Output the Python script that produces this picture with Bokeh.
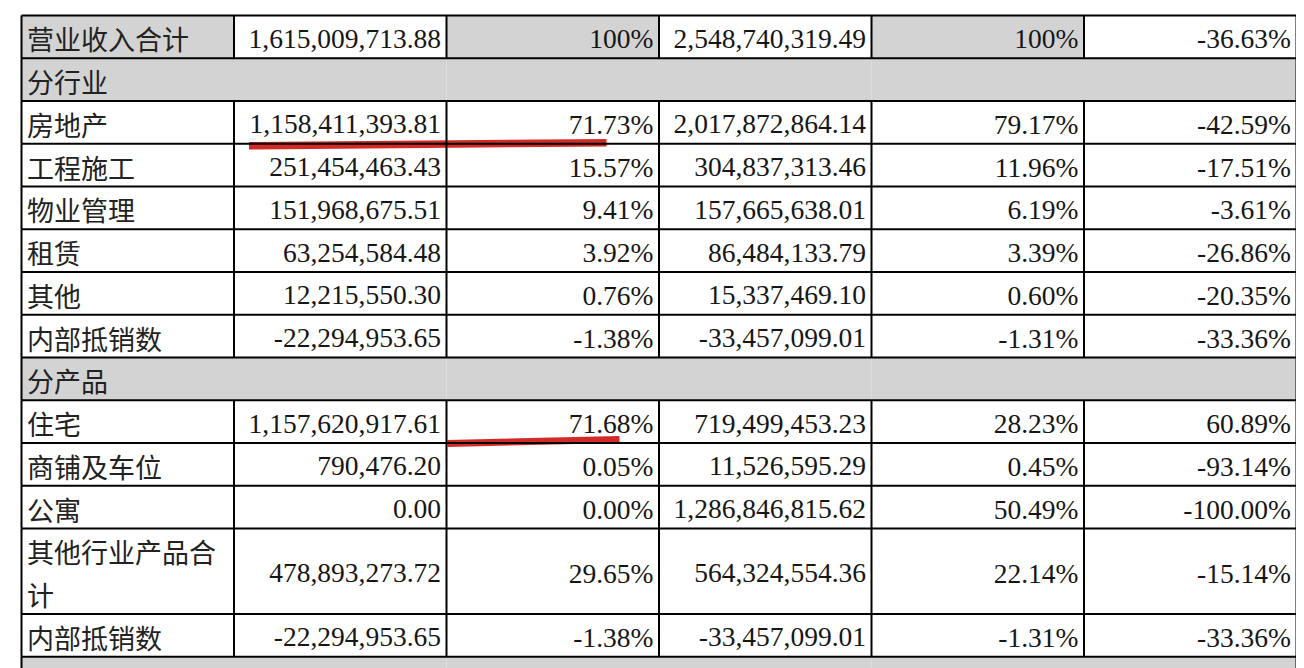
from bokeh.plotting import figure
from bokeh.models import Range1d
from bokeh.core.properties import value
from bokeh.embed import file_html
from bokeh.resources import INLINE

# ---------------- data ----------------
row_labels = ["营业收入合计", "分行业", "房地产", "工程施工", "物业管理", "租赁", "其他",
              "内部抵销数", "分产品", "住宅", "商铺及车位", "公寓", "其他行业产品合计",
              "内部抵销数", "分地区"]
section_rows = [1, 8, 14]          # merged grey heading rows
total_row = 0
amount_2023 = [1615009713.88, None, 1158411393.81, 251454463.43, 151968675.51,
               63254584.48, 12215550.30, -22294953.65, None, 1157620917.61,
               790476.20, 0.00, 478893273.72, -22294953.65, None]
share_2023 = [100, None, 71.73, 15.57, 9.41, 3.92, 0.76, -1.38, None, 71.68,
              0.05, 0.00, 29.65, -1.38, None]
amount_2022 = [2548740319.49, None, 2017872864.14, 304837313.46, 157665638.01,
               86484133.79, 15337469.10, -33457099.01, None, 719499453.23,
               11526595.29, 1286846815.62, 564324554.36, -33457099.01, None]
share_2022 = [100, None, 79.17, 11.96, 6.19, 3.39, 0.60, -1.31, None, 28.23,
              0.45, 50.49, 22.14, -1.31, None]
yoy_change = [-36.63, None, -42.59, -17.51, -3.61, -26.86, -20.35, -33.36, None,
              60.89, -93.14, -100.00, -15.14, -33.36, None]

# ---------------- layout ----------------
W, H = 1296, 668
X0, Y0 = 21.0, 15.0         # table origin inside the plot
COL_W = 212.5
LINE_H = 42.75
N_COLS = 6
FS = 27.5
PAD = 5.5
MAX_CHARS = 7
GREY = "#d3d3d3"
INK = "#161616"
CJK = "Noto Sans CJK SC"
SERIF = "Liberation Serif"

col_edges = [X0 + i * COL_W for i in range(N_COLS + 1)]


def wrap(label):
    return [label[i:i + MAX_CHARS] for i in range(0, len(label), MAX_CHARS)]


row_lines = [len(wrap(l)) for l in row_labels]
row_edges = [Y0]
for n in row_lines:
    row_edges.append(row_edges[-1] + n * LINE_H)


def fmt_amt(v):
    return "" if v is None else f"{v:,.2f}"


def fmt_pct(v, short_100=False):
    if v is None:
        return ""
    if short_100 and v == 100:
        return "100%"
    return f"{v:.2f}%"


p = figure(width=W, height=H, output_backend="svg", toolbar_location=None,
           x_range=Range1d(0, W), y_range=Range1d(H, 0), min_border=0,
           outline_line_color=None, background_fill_color="white",
           border_fill_color="white")
p.axis.visible = False
p.grid.visible = False

# backgrounds
bl, br, bt, bb, bc = [], [], [], [], []
for r in range(len(row_labels)):
    for c in range(N_COLS):
        grey = (r in section_rows) or (r == total_row and c % 2 == 0)
        bl.append(col_edges[c]); br.append(col_edges[c + 1])
        bt.append(row_edges[r]); bb.append(min(row_edges[r + 1], H + 20))
        bc.append(GREY if grey else "white")
p.quad(left=bl, right=br, top=bt, bottom=bb, fill_color=bc, line_color=None)

# red highlight strokes (annotations on the screenshot)
hl_rows = [2, 9]
hl_from = [(col_edges[1] + 15, 2.0), (col_edges[2] + 1, 0.5)]
hl_to = [(col_edges[2] + 160, -1.0), (col_edges[2] + 173, -3.5)]
hl_width = [7.5, 7]
for r, (fx, fy), (tx, ty), w in zip(hl_rows, hl_from, hl_to, hl_width):
    y = row_edges[r + 1]
    p.line([fx, tx], [y + fy, y + ty], line_color="#d22a27", line_width=w,
           line_cap="butt")

# grid lines
x0s, y0s, x1s, y1s = [], [], [], []
for y in row_edges:
    x0s.append(col_edges[0]); x1s.append(col_edges[-1]); y0s.append(y); y1s.append(y)
for r in range(len(row_labels)):
    edges = [0, N_COLS] if r in section_rows else range(N_COLS + 1)
    for c in edges:
        x0s.append(col_edges[c]); x1s.append(col_edges[c])
        y0s.append(row_edges[r]); y1s.append(row_edges[r + 1])
p.segment(x0=x0s, y0=y0s, x1=x1s, y1=y1s, line_color="black", line_width=2)

# labels
lx, ly, lt = [], [], []
for r, lab in enumerate(row_labels):
    for i, part in enumerate(wrap(lab)):
        lx.append(col_edges[0] + PAD)
        ly.append(row_edges[r] + (i + 0.5) * LINE_H + 2)
        lt.append(part)
p.text(x=lx, y=ly, text=lt, text_font=value(CJK), text_font_size=value(f"{FS-0.5}px"),
       text_align="left", text_baseline="middle", text_color="#222222")

# numbers
nx, ny, nt = [], [], []
for r in range(len(row_labels)):
    if r in section_rows:
        continue
    cells = [fmt_amt(amount_2023[r]), fmt_pct(share_2023[r], True),
             fmt_amt(amount_2022[r]), fmt_pct(share_2022[r], True),
             fmt_pct(yoy_change[r])]
    yc = (row_edges[r] + row_edges[r + 1]) / 2 + 2
    for c, s in enumerate(cells, start=1):
        nx.append(col_edges[c + 1] - PAD)
        ny.append(yc)
        nt.append(s)
p.text(x=nx, y=ny, text=nt, text_font=value(SERIF), text_font_size=value(f"{FS}px"),
       text_align="right", text_baseline="middle", text_color=INK)

open("out.html", "w").write(file_html(p, INLINE))
